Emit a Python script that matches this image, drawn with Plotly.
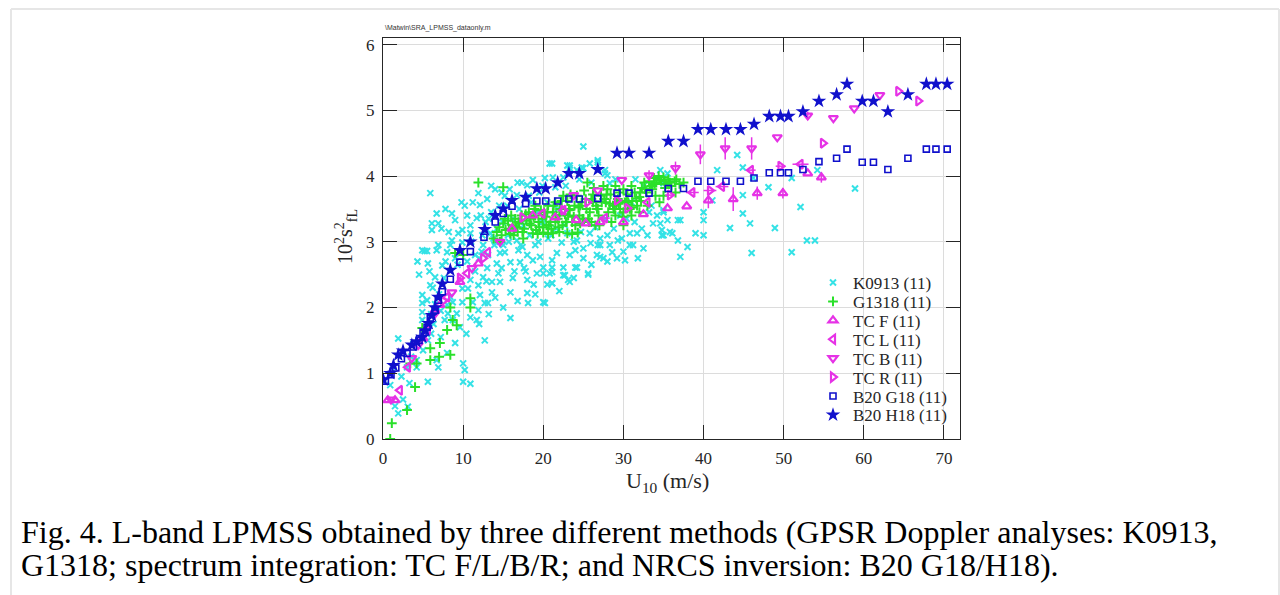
import plotly.graph_objects as go

# ---------------- data ----------------
k0913_u = [0.9,1.9,3.1,5.6,3.0,4.2,6.9,4.2,8.0,9.0,10.2,10.0,10.9,10.0,12.7,1.9,5.0,5.6,4.9,4.9,4.9,4.9,5.5,5.9,6.5,7.4,5.6,4.9,5.2,6.7,8.4,8.7,9.2,8.1,8.0,7.7,8.4,8.7,9.9,9.9,9.6,10.6,10.9,11.2,11.9,10.9,11.7,12.7,13.1,12.1,11.9,12.5,13.0,13.6,13.6,14.4,14.2,13.1,14.6,15.2,15.9,15.9,16.9,17.1,18.0,18.0,18.1,15.9,18.7,19.2,20.0,20.0,20.8,21.1,20.0,21.1,21.7,22.5,22.7,23.1,23.3,24.0,25.0,25.6,26.7,27.1,28.0,27.5,28.6,29.2,30.2,31.2,31.8,33.0,34.8,
            6.5,7.0,7.2,6.2,7.6,6.0,3.5,2.5,1.5,3.8,5.3,6.3,7.2,4.5,5.8,4.3,
            5.9,6.1,6.1,6.9,6.7,8.6,9.0,9.4,9.9,10.9,10.9,8.6,9.9,8.0,6.9,5.5,11.9,12.1,11.7,12.5,13.4,13.9,14.6,15.0,16.7,17.4,18.0,18.7,19.0,20.8,20.2,21.2,21.5,22.5,23.0,23.3,24.2,25.0,25.0,25.8,26.8,27.7,28.0,28.3,22.3,23.0,25.0,25.8,27.1,28.3,29.3,30.8,31.7,33.7,34.2,34.6,34.8,35.0,35.5,34.6,16.7,18.0,19.5,
            12.8,13.5,14.2,15.5,16.2,17.0,18.5,19.8,13.0,14.8,17.5,19.2,20.5,21.8,10.2,11.0,12.0,9.3,10.5,11.5,12.3,13.8,15.6,16.4,17.6,18.8,19.6,21.1,21.1,22.5,24.2,25.6,23.3,21.1,20.2,24.2,24.0,26.8,27.1,29.8,30.8,35.8,37.1,38.0,37.1,39.0,40.0,40.0,40.0,43.3,21.1,23.3,24.8,26.8,27.7,
            35.0,35.0,35.5,36.8,35.0,36.1,36.8,41.1,41.7,44.2,44.9,44.9,44.9,45.8,46.2,46.0,48.1,48.9,51.0,52.1,52.9,53.9,54.2,51.0,58.9,
            31.0,32.5,29.0,31.5,33.5,21.0,20.0,15.2,16.8,14.0,
            12.4,13.2,14.0,14.9,15.7,16.5,17.2,18.3,19.4,20.6,21.6,22.7,23.8,24.7,25.9,26.5,27.8,28.8,29.6,30.4,31.4,32.3,33.2,26.0,24.5,22.8,19.9,18.2,17.3,15.8,14.5,13.5,12.2,11.2,10.5,9.8,8.2,7.8,7.3,11.5,12.9,14.8,16.2,17.8,19.0,20.5,22.0,23.8,26.0,28.0,30.0,32.5,14.0,16.8,10.4,12.0,13.2,15.0,6.7,6.0,3.3,2.3,1.2,7.8,9.0]
k0913_mss = [0.82,0.39,0.49,0.87,1.09,1.09,1.09,1.2,1.31,1.46,1.05,0.87,0.84,1.15,1.5,1.53,1.35,1.5,1.81,1.93,2.07,2.19,2.11,2.34,2.46,2.64,2.67,2.87,2.86,2.87,2.95,1.81,1.91,1.91,2.04,1.81,2.16,2.08,2.29,2.08,1.7,2.29,2.42,2.08,1.96,1.85,1.81,2.07,2.07,2.19,2.34,2.46,2.6,2.23,2.39,2.52,2.67,2.8,2.39,2.84,2.23,2.69,2.87,2.69,2.42,2.22,2.07,1.84,2.72,2.52,2.61,2.52,2.52,2.61,2.08,2.37,2.83,2.61,2.49,2.42,2.8,2.61,2.75,2.52,2.8,2.95,3.1,2.75,2.84,2.75,2.72,2.95,2.75,3.1,3.1,
              2.05,2.2,1.95,2.3,2.45,1.9,1.25,0.6,0.5,1.45,1.65,1.75,1.55,2.5,2.55,2.7,
              3.74,3.28,3.18,3.28,3.43,3.43,3.33,3.13,3.18,3.25,3.13,3.02,2.99,2.84,2.95,2.86,3.74,3.56,3.36,2.95,3.13,2.95,2.83,2.95,3.02,2.92,2.8,3.94,2.95,4.19,3.97,3.98,3.83,3.98,4.16,4.12,4.09,4.45,4.12,4.19,4.24,4.09,4.01,3.89,2.99,3.13,2.9,3.13,3.05,2.95,3.02,2.95,3.13,3.28,3.4,3.28,3.18,3.45,4.04,4.09,3.71,3.86,3.75,
              3.3,3.45,3.2,3.55,3.35,3.5,3.6,3.3,3.65,3.75,3.25,3.45,3.6,3.5,3.55,3.0,2.75,2.65,2.7,2.55,2.85,3.05,3.1,2.55,2.6,2.35,2.77,2.72,2.54,2.49,2.61,2.5,2.39,2.37,2.07,3.02,2.87,2.95,2.77,3.05,3.13,3.15,3.33,2.92,2.77,3.13,3.33,3.45,3.1,3.21,4.19,4.16,4.13,4.21,4.04,
              3.89,3.48,3.33,3.33,3.1,3.13,3.02,3.63,4.09,4.32,4.13,3.71,3.43,3.28,3.97,2.83,3.83,3.21,3.97,3.53,3.02,3.02,4.09,2.84,3.81,
              3.6,3.85,3.95,3.95,3.55,3.1,3.3,3.7,3.9,3.8,
              3.1,3.35,3.0,3.3,3.0,3.2,2.95,3.1,3.0,3.05,3.2,3.25,3.0,3.15,2.98,3.22,3.35,3.2,3.4,3.35,3.3,3.2,3.45,3.9,3.95,3.85,3.85,3.7,3.9,3.8,3.55,3.85,3.4,3.6,3.4,3.6,3.15,3.5,3.2,2.8,2.4,2.6,2.45,2.55,2.2,2.35,2.25,2.45,2.65,2.7,2.85,2.9,2.15,2.1,1.6,1.75,1.9,2.0,1.2,1.6,0.85,0.95,1.1,2.7,2.75]

g1318_u = [0.9,1.1,3.0,4.0,4.2,3.4,5.9,5.9,7.1,8.0,8.4,9.2,8.7,8.4,10.9,10.9,4.9,9.0,10.0,7.0,11.9,15.0,
           13.8,14.2,14.5,14.8,15.0,15.3,15.6,15.9,16.2,16.5,16.8,17.0,17.3,17.6,17.9,18.2,18.5,18.8,19.1,19.4,19.7,20.0,20.3,20.6,20.9,21.2,21.5,21.8,22.1,22.4,22.7,23.0,23.3,23.6,23.9,24.2,24.5,24.8,25.1,25.4,25.7,26.0,26.3,26.6,26.9,27.2,27.5,27.8,28.1,28.4,28.7,29.0,29.3,29.6,29.9,30.2,30.5,30.8,31.1,31.4,31.7,32.0,32.3,32.6,32.9,33.2,33.5,33.8,34.1,34.4,34.7,35.0,35.3,35.6,36.0,36.4,37.5,
           18.7,19.3,20.0,20.6,21.2,22.0,23.0,23.6,24.3,14.6,
           16.0,17.5,19.0,21.0,22.5,24.0,25.5,26.5,28.0,29.5,30.0,31.0,32.0,33.0,34.0,35.0,36.5,34.5,
           16.6,18.3,19.9,21.6,23.2,24.6,26.2,27.6,29.1,30.6,32.2,33.6,35.2,25.0,26.8,28.8,22.9,20.4,
           15.2,15.7,16.3,16.9,17.4,17.8,18.4,18.9,19.5,20.1,20.7,21.3,21.9,22.3,22.8,23.4,23.8,24.4,24.9,25.3,25.8,26.2,26.7,27.3,27.9,28.3,28.9,29.4,30.0,30.4,31.0,31.6,32.1,32.7,33.3,33.9,34.5,35.1,35.8,36.6,37.0,26.0,27.0,28.5,29.0,30.0,31.0,25.6,24.6,23.1,22.0,21.5,20.5,19.0]
g1318_mss = [0.0,0.24,0.44,0.79,1.15,1.15,1.2,1.38,1.46,1.66,1.28,1.73,1.81,2.0,2.0,2.14,1.69,2.83,2.8,1.25,3.9,3.83,
             3.05,3.15,3.22,3.1,3.28,3.18,3.32,3.12,3.25,3.35,3.15,3.28,3.4,3.2,3.32,3.45,3.25,3.38,3.18,3.3,3.48,3.22,3.38,3.55,3.3,3.45,3.6,3.35,3.5,3.25,3.42,3.62,3.48,3.3,3.55,3.7,3.4,3.6,3.78,3.5,3.3,3.65,3.82,3.55,3.4,3.7,3.85,3.6,3.45,3.72,3.55,3.4,3.65,3.5,3.38,3.6,3.72,3.5,3.62,3.75,3.55,3.68,3.82,3.9,3.75,3.92,3.85,3.97,3.9,4.0,3.93,3.98,3.88,3.95,3.85,3.92,3.9,
             3.13,3.12,3.14,3.12,3.13,3.15,3.13,3.12,3.14,3.0,
             3.4,3.05,3.55,3.2,3.7,3.25,3.9,3.25,3.8,3.75,3.25,3.4,3.45,3.55,3.7,3.7,3.75,3.6,
             3.22,3.28,3.35,3.4,3.5,3.55,3.6,3.65,3.58,3.6,3.62,3.8,3.82,3.35,3.5,3.5,3.3,3.25,
             3.35,3.2,3.1,3.3,3.15,3.42,3.35,3.5,3.22,3.45,3.25,3.55,3.22,3.62,3.3,3.72,3.38,3.52,3.35,3.65,3.45,3.72,3.5,3.6,3.72,3.58,3.5,3.58,3.45,3.62,3.52,3.66,3.75,3.8,3.84,3.88,3.94,3.92,3.9,3.95,3.88,3.3,3.25,3.3,3.85,3.8,3.85,3.35,3.28,3.4,3.4,3.3,3.45,3.4]

tcf_u = [0.6,1.5,5.0,7.1,9.6,11.9,16.1,18.7,21.5,24.1,25.3,27.1,30.0,32.5,35.5,37.9,40.6,43.7,46.7,49.9,53.0,54.7]
tcf_mss = [0.59,0.59,1.53,2.04,2.39,2.67,3.2,3.4,3.37,3.33,3.28,3.3,3.3,3.42,3.51,3.54,3.63,3.65,3.74,3.74,4.04,3.98]
tcf_err = [0,0,0,0,0,0,0,0,0,0,0,0,0,0,0,0,0.12,0.18,0.1,0.08,0,0.08]

tcl_u = [2.1,3.1,5.6,8.0,10.5,13.1,19.9,22.5,27.7,33.0,38.6,42.3,45.9,52.1]
tcl_mss = [0.74,1.09,1.66,2.16,2.52,2.84,3.43,3.48,3.36,3.6,3.75,3.84,4.09,4.18]
tcl_err = [0,0,0,0,0,0,0,0,0.6,0,0.8,0.8,0.6,1.0]

tcb_u = [1.0,3.6,4.4,6.5,8.6,11.1,14.6,23.8,26.8,29.8,33.2,36.5,39.6,42.7,46.0,49.2,53.0,56.2,58.8,62.0]
tcb_mss = [0.6,1.23,1.43,1.91,2.23,2.6,3.0,3.71,3.78,3.94,4.01,4.12,4.33,4.42,4.42,4.59,4.92,4.88,5.03,5.23]
tcb_err = [0,0,0,0,0,0,0,0,0,0,0.08,0.1,0.15,0.17,0.17,0,0.06,0,0,0]

tcr_u = [7.5,9.6,12.5,17.4,22.5,25.5,29.2,30.5,35.8,40.8,49.6,54.9,64.3,66.8]
tcr_mss = [2.1,2.45,2.75,3.37,3.48,3.6,3.63,3.51,3.71,3.78,4.15,4.5,5.29,5.14]
tcr_err = [0,0,0,0,0,0,0,0,0.6,0.8,0.6,0,0,0]

g18_u = [0.3,1.0,1.6,2.3,3.0,3.8,4.5,5.0,5.5,5.9,6.5,6.9,7.4,8.4,9.6,10.9,12.6,14.0,15.0,16.1,17.8,19.2,20.3,21.8,23.2,24.5,26.8,29.2,30.7,33.2,35.6,37.5,39.3,40.9,42.8,44.6,46.3,48.2,49.6,50.6,52.4,54.4,56.6,57.9,59.8,61.2,63.0,65.5,67.8,69.0,70.4]
g18_mss = [0.88,0.98,1.08,1.22,1.3,1.4,1.5,1.61,1.7,1.84,1.96,2.11,2.24,2.43,2.69,2.85,3.07,3.3,3.43,3.54,3.58,3.62,3.62,3.62,3.65,3.65,3.66,3.74,3.74,3.74,3.81,3.81,3.92,3.92,3.92,3.92,3.97,4.05,4.05,4.05,4.1,4.22,4.27,4.41,4.21,4.21,4.1,4.27,4.41,4.41,4.41]

h18_u = [0.04,0.9,1.3,1.9,2.5,3.6,4.2,4.9,5.3,5.7,6.1,6.5,6.9,7.4,8.4,9.6,10.9,12.7,14.0,15.0,16.1,17.8,19.2,20.3,21.8,23.2,24.5,26.8,29.2,30.7,33.2,35.6,37.5,39.3,40.9,42.8,44.6,46.3,48.2,49.6,50.6,52.4,54.4,56.6,57.9,59.8,61.2,63.0,65.5,67.8,69.0,70.4]
h18_mss = [0.9,1.0,1.12,1.28,1.34,1.43,1.48,1.55,1.65,1.76,1.88,2.0,2.16,2.36,2.57,2.87,3.0,3.19,3.4,3.5,3.63,3.68,3.81,3.81,3.9,4.04,4.04,4.1,4.35,4.35,4.35,4.53,4.53,4.71,4.71,4.71,4.71,4.79,4.91,4.91,4.91,4.98,5.14,5.24,5.4,5.14,5.14,4.98,5.24,5.4,5.4,5.4]

legend_names = ["K0913 (11)", "G1318 (11)", "TC F (11)", "TC L (11)", "TC B (11)", "TC R (11)", "B20 G18 (11)", "B20 H18 (11)"]
x_ticks = [0, 10, 20, 30, 40, 50, 60, 70]
y_ticks = [0, 1, 2, 3, 4, 5, 6]
caption_lines = ["Fig. 4. L-band LPMSS obtained by three different methods (GPSR Doppler analyses: K0913,",
                 "G1318; spectrum integration: TC F/L/B/R; and NRCS inversion: B20 G18/H18)."]

# ---------------- styles ----------------
CYAN = "#34e2e6"
GREEN = "#2ae02a"
MAG = "#e632e6"
BLUE = "#1010cc"
SERIF = "Liberation Serif, Times New Roman, serif"

# plot area in pixels
L, R, T, B = 383, 960, 38, 439
W, H = 1280, 595
PW, PH = R - L, B - T
def px_x(p):
    return (p - L) / PW
def px_y(p):
    return (B - p) / PH

fig = go.Figure()

fig.add_trace(go.Scatter(x=k0913_u, y=k0913_mss, mode="markers", name=legend_names[0], legend="legend",
                         marker=dict(symbol="x-thin-open", size=6, color=CYAN, line=dict(color=CYAN, width=2))))
fig.add_trace(go.Scatter(x=g1318_u, y=g1318_mss, mode="markers", name=legend_names[1], legend="legend2",
                         marker=dict(symbol="cross-thin-open", size=7, color=GREEN, line=dict(color=GREEN, width=2))))

def tc_trace(u, m, err, sym, name, leg, horizontal):
    eb = dict(type="data", array=err, visible=True, color=MAG, thickness=1.5, width=0)
    kw = dict(error_x=eb) if horizontal else dict(error_y=eb)
    return go.Scatter(x=u, y=m, mode="markers", name=name, legend=leg,
                      marker=dict(symbol=sym, size=8, color=MAG, line=dict(color=MAG, width=2.2)), **kw)

fig.add_trace(tc_trace(tcf_u, tcf_mss, tcf_err, "triangle-up-open", legend_names[2], "legend3", False))
fig.add_trace(tc_trace(tcl_u, tcl_mss, tcl_err, "triangle-left-open", legend_names[3], "legend4", True))
fig.add_trace(tc_trace(tcb_u, tcb_mss, tcb_err, "triangle-down-open", legend_names[4], "legend5", False))
fig.add_trace(tc_trace(tcr_u, tcr_mss, tcr_err, "triangle-right-open", legend_names[5], "legend6", True))

fig.add_trace(go.Scatter(x=g18_u, y=g18_mss, mode="markers", name=legend_names[6], legend="legend7",
                         marker=dict(symbol="square-open", size=6, color=BLUE, line=dict(color=BLUE, width=1.6))))
fig.add_trace(go.Scatter(x=h18_u, y=h18_mss, mode="markers", name=legend_names[7], legend="legend8",
                         marker=dict(symbol="star", size=11, color=BLUE, line=dict(width=0))))

axis_common = dict(showgrid=True, gridcolor="#dcdcdc", gridwidth=1, zeroline=False,
                   showline=True, linecolor="#262626", linewidth=1, mirror="ticks",
                   ticks="inside", ticklen=14, tickwidth=1.2, tickcolor="#262626",
                   tickfont=dict(family=SERIF, size=17, color="#262626"))

fig.update_layout(
    width=W, height=H,
    margin=dict(l=L, r=W - R, t=T, b=H - B, pad=0),
    paper_bgcolor="white", plot_bgcolor="white",
    xaxis=dict(range=[0, 72], tickvals=x_ticks, ticklabelstandoff=4, **axis_common),
    yaxis=dict(range=[0, 6.1], tickvals=y_ticks, ticklabelstandoff=4, **axis_common),
    showlegend=True,
)

# one legend per entry so the rows can be spaced like the original
row0, row_step = 283, 18.9
for i in range(8):
    key = "legend" if i == 0 else f"legend{i+1}"
    fig.update_layout({key: dict(x=px_x(813), xanchor="left", y=px_y(row0 + i * row_step), yanchor="middle",
                                 bgcolor="rgba(0,0,0,0)", borderwidth=0,
                                 font=dict(family=SERIF, size=17, color="#262626"),
                                 itemclick=False, itemdoubleclick=False)})

# page frame
frame = dict(color="#e6e6e6", width=2)
fig.add_shape(type="line", xref="paper", yref="paper", x0=px_x(11), x1=px_x(11), y0=px_y(9), y1=px_y(600), line=frame)
fig.add_shape(type="line", xref="paper", yref="paper", x0=px_x(11), x1=px_x(1279), y0=px_y(9), y1=px_y(9), line=frame)
fig.add_shape(type="line", xref="paper", yref="paper", x0=px_x(1279), x1=px_x(1279), y0=px_y(9), y1=px_y(600), line=frame)

# texts
fig.add_annotation(text="\\Matwin\\SRA_LPMSS_dataonly.m", xref="paper", yref="paper",
                   x=px_x(383), y=px_y(28), xanchor="left", yanchor="middle", showarrow=False,
                   font=dict(family="Liberation Sans, Arial", size=7, color="#333333"))
fig.add_annotation(text="U<sub>10</sub> (m/s)", xref="paper", yref="paper",
                   x=px_x(667), y=px_y(482), xanchor="center", yanchor="middle", showarrow=False,
                   font=dict(family=SERIF, size=22, color="#262626"))
fig.add_annotation(text="10<sup>2</sup>s<sup>2</sup><sub>fL</sub>", xref="paper", yref="paper",
                   x=px_x(346), y=px_y(237), xanchor="center", yanchor="middle", showarrow=False, textangle=-90,
                   font=dict(family=SERIF, size=20, color="#262626"))
for i, line in enumerate(caption_lines):
    fig.add_annotation(text=line, xref="paper", yref="paper",
                       x=px_x(19), y=px_y(532 + 33 * i), xanchor="left", yanchor="middle", showarrow=False,
                       font=dict(family=SERIF, size=32, color="black"))

fig.write_html("out.html", config={"displayModeBar": False},
               post_script="document.body.style.margin='0';")
